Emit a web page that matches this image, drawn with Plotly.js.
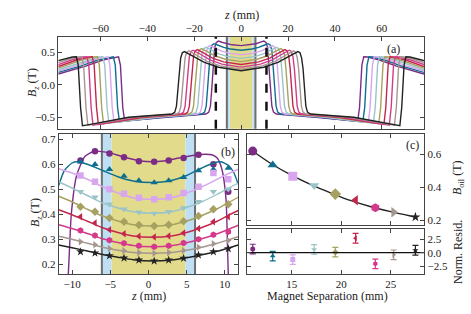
<!DOCTYPE html>
<html><head><meta charset="utf-8">
<script src="https://cdn.plot.ly/plotly-3.0.1.min.js"></script>
<style>html,body{margin:0;padding:0;background:#fff}#g{width:471px;height:314px}</style>
</head><body><div id="g"></div>
<script>
// ---- series styling names ----
const colors = ['#7B2D86','#0E6E8E','#D8A6EE','#9BC4C8','#A6A160','#C3264C','#D43A8C','#A59690','#222222'];
const symbols = ['circle','triangle-up','square','triangle-down','diamond','triangle-left','hexagon','triangle-right','star'];

// ---- panel (a): simulated Bz(z), right half (curves are mirror-symmetric) ----
const aZ = [
 [0,3.88,6.31,8.25,9.7,10.6,11.3,11.9,12.5,13.1,13.8,15,31.75,48,49.7,50.5,51.5,52.3,54,59,66,78],
 [0,4.6,7.48,9.78,11.5,12.4,13.1,13.7,14.3,14.9,15.6,16.8,33.75,50.2,51.9,52.7,53.7,54.5,56.2,61.2,68.2,78],
 [0,5.32,8.65,11.3,13.3,14.2,14.9,15.5,16.1,16.7,17.4,18.6,35.8,52.5,54.2,55,56,56.8,58.5,63.5,70.5,78],
 [0,6.04,9.82,12.8,15.1,16.0,16.7,17.3,17.9,18.5,19.2,20.4,37.8,54.7,56.4,57.2,58.2,59,60.7,65.7,72.7,78],
 [0,6.76,11.0,14.4,16.9,17.8,18.5,19.1,19.7,20.3,21,22.2,39.85,57,58.7,59.5,60.5,61.3,63,68,75,78],
 [0,7.48,12.2,15.9,18.7,19.6,20.3,20.9,21.5,22.1,22.8,24,41.85,59.2,60.9,61.7,62.7,63.5,65.2,70.2,77.2,78],
 [0,8.2,13.3,17.4,20.5,21.4,22.1,22.7,23.3,23.9,24.6,25.8,43.9,61.5,63.2,64,65,65.8,67.5,72.5,78],
 [0,8.92,14.5,19.0,22.3,23.2,23.9,24.5,25.1,25.7,26.4,27.6,45.9,63.7,65.4,66.2,67.2,68,69.7,74.7,78],
 [0,9.68,15.7,20.6,24.2,25.1,25.8,26.4,27,27.6,28.3,29.5,48,66,67.7,68.5,69.5,70.3,72,77,78]
];
const aB = [
 [0.60,0.613,0.63,0.653,0.67,0.65,0.57,0.25,-0.05,-0.33,-0.42,-0.45,-0.50,-0.55,-0.56,-0.35,0.3,0.43,0.425,0.38,0.29,0.165],
 [0.53,0.548,0.573,0.606,0.63,0.61,0.53,0.25,-0.05,-0.33,-0.42,-0.45,-0.50,-0.56,-0.57,-0.35,0.3,0.43,0.425,0.38,0.29,0.19],
 [0.46,0.485,0.52,0.566,0.60,0.58,0.50,0.25,-0.05,-0.33,-0.42,-0.45,-0.50,-0.57,-0.58,-0.35,0.3,0.43,0.425,0.38,0.29,0.21],
 [0.405,0.436,0.478,0.534,0.575,0.555,0.475,0.25,-0.05,-0.33,-0.42,-0.45,-0.50,-0.58,-0.59,-0.35,0.3,0.43,0.425,0.38,0.29,0.23],
 [0.355,0.391,0.441,0.507,0.555,0.535,0.455,0.25,-0.05,-0.33,-0.42,-0.45,-0.50,-0.59,-0.60,-0.35,0.3,0.43,0.425,0.38,0.29,0.255],
 [0.31,0.351,0.409,0.485,0.54,0.52,0.44,0.25,-0.05,-0.33,-0.42,-0.45,-0.50,-0.60,-0.61,-0.35,0.3,0.43,0.425,0.38,0.29,0.28],
 [0.27,0.317,0.382,0.468,0.53,0.51,0.43,0.25,-0.05,-0.33,-0.42,-0.45,-0.50,-0.61,-0.62,-0.35,0.3,0.43,0.425,0.38,0.31],
 [0.24,0.29,0.36,0.453,0.52,0.50,0.42,0.25,-0.05,-0.33,-0.42,-0.45,-0.50,-0.61,-0.62,-0.35,0.3,0.43,0.425,0.38,0.34],
 [0.215,0.268,0.342,0.439,0.51,0.49,0.41,0.25,-0.05,-0.33,-0.42,-0.45,-0.50,-0.62,-0.63,-0.35,0.3,0.43,0.425,0.38,0.37]
];

// ---- panel (b): fitted curves ----
const bFitZ = [
 [-11.0,-10.5,-10.1,-9.4,-8.3,-7.1,-5,-3,-1,0.5,2,4,6,7.5,8.3,9.0,9.6,10.15,10.46,10.8],
 [-11.75,-11,-10,-9.3,-8,-6,-4,-2,0.5,3,5,7,8.5,9.5,10.5,11.2,11.75],
 [-11.75,-10,-8,-6,-4,-2,0.5,3,5,7,9,10.5,11.75],
 [-11.75,-10,-8,-6,-4,-2,0.5,3,5,7,9,10.5,11.75],
 [-11.75,-10,-8,-6,-4,-2,0.5,3,5,7,9,10.5,11.75],
 [-11.75,-10,-8,-6,-4,-2,0.5,3,5,7,9,10.5,11.75],
 [-11.75,-10,-8,-6,-4,-2,0.5,3,5,7,9,10.5,11.75],
 [-11.75,-10,-8,-6,-4,-2,0.5,3,5,7,9,10.5,11.75],
 [-11.75,-10,-8,-6,-4,-2,0.5,3,5,7,9,10.5,11.75]
];
const bFitB = [
 [0.0,0.16,0.40,0.556,0.632,0.652,0.645,0.627,0.613,0.61,0.613,0.625,0.636,0.64,0.638,0.625,0.582,0.462,0.157,0.0],
 [0.515,0.575,0.605,0.61,0.6,0.575,0.55,0.533,0.527,0.535,0.555,0.585,0.605,0.61,0.595,0.565,0.52],
 [0.582,0.565,0.54,0.51,0.485,0.466,0.46,0.466,0.485,0.51,0.54,0.563,0.58],
 [0.53,0.505,0.475,0.445,0.425,0.41,0.404,0.41,0.427,0.45,0.48,0.505,0.525],
 [0.472,0.45,0.42,0.393,0.373,0.358,0.353,0.358,0.373,0.395,0.422,0.447,0.468],
 [0.418,0.398,0.372,0.346,0.327,0.313,0.308,0.313,0.327,0.347,0.372,0.396,0.415],
 [0.358,0.343,0.323,0.302,0.287,0.275,0.27,0.274,0.286,0.302,0.322,0.34,0.356],
 [0.312,0.3,0.284,0.268,0.256,0.247,0.244,0.247,0.256,0.268,0.284,0.298,0.31],
 [0.277,0.266,0.253,0.239,0.228,0.218,0.213,0.217,0.226,0.238,0.252,0.265,0.277]
];

// ---- panel (b): measured points ----
const bPtZ = [-8.9,-7.0,-5.1,-3.2,-1.25,0.75,2.65,4.6,6.55,8.5,10.45];
const bPtB = [
 [0.615,0.652,0.643,0.628,0.612,0.61,0.615,0.625,0.638,0.60,0.49],
 [0.61,0.60,0.58,0.553,0.535,0.527,0.535,0.548,0.575,0.58,0.585],
 [0.555,0.53,0.50,0.482,0.466,0.46,0.468,0.485,0.51,0.565,0.54],
 [0.49,0.468,0.44,0.42,0.408,0.403,0.41,0.425,0.45,0.49,0.50],
 [0.43,0.41,0.385,0.37,0.357,0.353,0.358,0.372,0.393,0.42,0.44],
 [0.39,0.365,0.338,0.322,0.312,0.309,0.313,0.325,0.343,0.37,0.39],
 [0.335,0.315,0.296,0.284,0.274,0.27,0.274,0.285,0.3,0.318,0.33],
 [0.29,0.278,0.263,0.254,0.247,0.244,0.247,0.255,0.268,0.282,0.295],
 [0.25,0.245,0.234,0.225,0.217,0.213,0.217,0.224,0.237,0.25,0.262]
];

// ---- panel (c): B_oil vs magnet separation ----
const sep = [11.05,13.07,15.1,17.26,19.4,21.45,23.45,25.3,27.5];
const bOil = [0.62,0.535,0.467,0.41,0.358,0.321,0.275,0.248,0.218];
const fitSep = [11.0,13,15,17,19,21,23,25,27,27.6];
const fitOil = [0.622,0.54,0.472,0.414,0.364,0.318,0.281,0.251,0.225,0.218];
const resid = [0.68,-0.64,-1.3,0.6,0.1,2.7,-2.1,-0.4,0.45];
const residErr = [0.9,0.9,0.9,0.9,0.9,0.9,0.9,0.9,0.9];

const traces = [];
for (let i = 0; i < 9; i++) {
  const zr = aZ[i], br = aB[i];
  const zFull = zr.slice(1).reverse().map(v => -v).concat(zr);
  const bFull = br.slice(1).reverse().concat(br);
  traces.push({x: zFull, y: bFull, xaxis:'x', yaxis:'y', mode:'lines',
    line:{color:colors[i], width:1.4}, hoverinfo:'skip'});
}
for (let i = 0; i < 9; i++) {
  traces.push({x: bFitZ[i], y: bFitB[i], xaxis:'x2', yaxis:'y2', mode:'lines',
    line:{color:colors[i], width:1.4, shape:'spline', smoothing:0.6}, cliponaxis:true});
  traces.push({x: bPtZ, y: bPtB[i], xaxis:'x2', yaxis:'y2', mode:'markers',
    marker:{color:colors[i], symbol:symbols[i], size:6.5, line:{width:0}}, cliponaxis:true});
}
traces.push({x: fitSep, y: fitOil, xaxis:'x3', yaxis:'y3', mode:'lines',
  line:{color:'#222', width:1.4, shape:'spline'}});
for (let i = 0; i < 9; i++) {
  traces.push({x:[sep[i]], y:[bOil[i]], xaxis:'x3', yaxis:'y3', mode:'markers',
    marker:{color:colors[i], symbol:symbols[i], size:(i === 8 ? 7.5 : 9), line:{width:0}}});
  traces.push({x:[sep[i]], y:[resid[i]], xaxis:'x4', yaxis:'y4', mode:'markers',
    marker:{color:colors[i], symbol:symbols[i], size:5, line:{width:0}},
    error_y:{type:'data', array:[residErr[i]], color:colors[i], thickness:1.2, width:3}});
}
traces.push({x:[10.5,28.4], y:[0,0], xaxis:'x4', yaxis:'y4', mode:'lines', line:{color:'#111', width:1.4}});

const F = 'Liberation Serif, Times New Roman, serif';
const W = 471, H = 314;
const px = v => v / W, py = v => 1 - v / H;
const ax = {showline:true, linecolor:'#444', linewidth:1, mirror:'ticks', ticks:'inside', ticklen:4,
  tickcolor:'#444', showgrid:false, zeroline:false, tickfont:{family:F, size:11, color:'#222'}};

const bandShapes = (xr, yr) => [
  {type:'rect', xref:xr, yref:yr+' domain', x0:-4.85, x1:4.85, y0:0, y1:1, fillcolor:'#E3DB8C', line:{width:0}, layer:'below'},
  {type:'rect', xref:xr, yref:yr+' domain', x0:-6.05, x1:-4.85, y0:0, y1:1, fillcolor:'#BFE0F4', line:{width:0}, layer:'below'},
  {type:'rect', xref:xr, yref:yr+' domain', x0:4.85, x1:6.05, y0:0, y1:1, fillcolor:'#BFE0F4', line:{width:0}, layer:'below'},
  {type:'line', xref:xr, yref:yr+' domain', x0:-6.1, x1:-6.1, y0:0, y1:1, line:{color:'#6E6E6E', width:2}, layer:'below'},
  {type:'line', xref:xr, yref:yr+' domain', x0:6.1, x1:6.1, y0:0, y1:1, line:{color:'#6E6E6E', width:2}, layer:'below'}
];

const ann = (text, x, y, extra) => Object.assign({text:text, x:px(x), y:py(y), xref:'paper', yref:'paper',
  xanchor:'center', yanchor:'middle', showarrow:false, font:{size:12}}, extra || {});

const layout = {
  width:W, height:H, margin:{l:0,r:0,t:0,b:0}, showlegend:false,
  paper_bgcolor:'#fff', plot_bgcolor:'rgba(0,0,0,0)', font:{family:F, size:11, color:'#222'},
  xaxis: Object.assign({}, ax, {domain:[px(58.3), px(424)], range:[-78,78], side:'top', anchor:'y',
    tickvals:[-60,-40,-20,0,20,40,60]}),
  yaxis: Object.assign({}, ax, {domain:[py(128.7), py(37)], range:[-0.675,0.733], anchor:'x',
    tickvals:[-0.5,0,0.5], tickformat:'.1f'}),
  xaxis2: Object.assign({}, ax, {domain:[px(58.7), px(238.2)], range:[-11.75,11.75], anchor:'y2',
    tickvals:[-10,-5,0,5,10]}),
  yaxis2: Object.assign({}, ax, {domain:[py(274), py(133.5)], range:[0.161,0.723], anchor:'x2',
    tickvals:[0.2,0.3,0.4,0.5,0.6,0.7], tickformat:'.1f'}),
  xaxis3: Object.assign({}, ax, {domain:[px(247.3), px(424.3)], range:[10.5,28.4], anchor:'y3',
    tickvals:[15,20,25], showticklabels:false}),
  yaxis3: Object.assign({}, ax, {domain:[py(225), py(133.5)], range:[0.17,0.727], anchor:'x3', side:'right',
    tickvals:[0.2,0.4,0.6], tickformat:'.1f'}),
  xaxis4: Object.assign({}, ax, {domain:[px(247.3), px(424.3)], range:[10.5,28.4], anchor:'y4',
    tickvals:[15,20,25]}),
  yaxis4: Object.assign({}, ax, {domain:[py(274), py(229.3)], range:[-4.0,4.38], anchor:'x4', side:'right',
    tickvals:[-2.5,0,2.5], tickformat:'.1f'}),
  shapes: [].concat(bandShapes('x','y'), bandShapes('x2','y2'), [
    {type:'line', xref:'x', yref:'y domain', x0:-10.8, x1:-10.8, y0:0, y1:1, line:{color:'#111', width:2.5, dash:'dash'}},
    {type:'line', xref:'x', yref:'y domain', x0:10.8, x1:10.8, y0:0, y1:1, line:{color:'#111', width:2.5, dash:'dash'}}
  ]),
  annotations: [
    ann('<i>z</i> (mm)', 241.5, 15),
    ann('<i>B<sub>z</sub></i> (T)', 33, 83, {textangle:-90}),
    ann('<i>B<sub>z</sub></i> (T)', 36, 213, {textangle:-90}),
    ann('<i>z</i> (mm)', 148, 296),
    ann('Magnet Separation (mm)', 327, 296),
    ann('<i>B</i><sub>oil</sub> (T)', 458, 178, {textangle:-90}),
    ann('Norm. Resid.', 458, 252, {textangle:-90}),
    ann('(a)', 393, 49),
    ann('(b)', 228, 152),
    ann('(c)', 412, 145)
  ]
};
Plotly.newPlot('g', traces, layout, {staticPlot:true});
</script></body></html>
